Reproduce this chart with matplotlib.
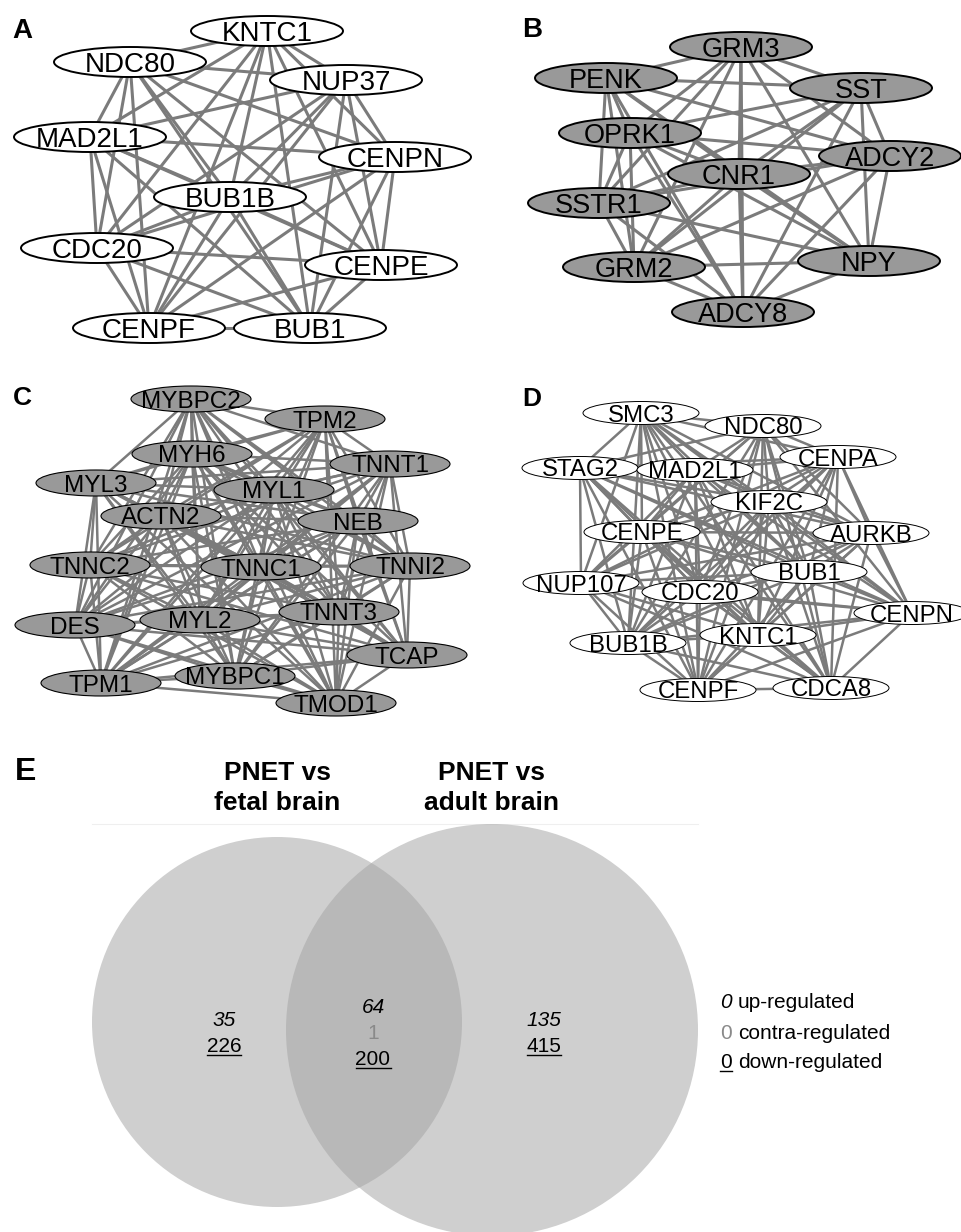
import itertools
import matplotlib
matplotlib.use("Agg")
import matplotlib.pyplot as plt
from matplotlib.patches import Ellipse, Circle

plt.rcParams["font.family"] = ["Liberation Sans", "DejaVu Sans"]

# ---------------- data ----------------
# Panel A network (nodes; all pairs connected except the listed missing ones)
genes_A = ["KNTC1", "NDC80", "NUP37", "MAD2L1", "CENPN", "BUB1B",
           "CDC20", "CENPE", "CENPF", "BUB1"]
missing_A = []
# Panel B network
genes_B = ["GRM3", "PENK", "SST", "OPRK1", "ADCY2", "CNR1",
           "SSTR1", "GRM2", "NPY", "ADCY8"]
missing_B = []
# Panel C network
genes_C = ["MYBPC2", "TPM2", "MYH6", "TNNT1", "MYL3", "MYL1", "ACTN2", "NEB",
           "TNNC2", "TNNC1", "TNNI2", "TNNT3", "DES", "MYL2", "TCAP", "TPM1",
           "MYBPC1", "TMOD1"]
missing_C = []
# Panel D network
genes_D = ["SMC3", "NDC80", "CENPA", "STAG2", "MAD2L1", "KIF2C", "CENPE",
           "AURKB", "BUB1", "NUP107", "CDC20", "CENPN", "KNTC1", "BUB1B",
           "CENPF", "CDCA8"]
missing_D = []

# Panel E Venn counts
venn_sets = ["PNET vs\nfetal brain", "PNET vs\nadult brain"]
venn_regions = ["fetal only", "both", "adult only"]
up_counts = [35, 64, 135]
contra_counts = [None, 1, None]
down_counts = [226, 200, 415]
legend_labels = ["up-regulated", "contra-regulated", "down-regulated"]
legend_counts = [0, 0, 0]

# ---------------- layout (pixel coordinates of the figure) ----------------
layout_A = {"KNTC1": (267, 31), "NDC80": (130, 62), "NUP37": (346, 80),
            "MAD2L1": (90, 137), "CENPN": (395, 157), "BUB1B": (230, 197),
            "CDC20": (97, 248), "CENPE": (381, 265), "CENPF": (149, 328),
            "BUB1": (310, 328)}
layout_B = {"GRM3": (741, 47), "PENK": (606, 78), "SST": (861, 88),
            "OPRK1": (630, 133), "ADCY2": (890, 156), "CNR1": (739, 174),
            "SSTR1": (599, 203), "GRM2": (634, 267), "NPY": (869, 261),
            "ADCY8": (743, 312)}
layout_C = {"MYBPC2": (191, 399), "TPM2": (325, 419), "MYH6": (192, 454),
            "TNNT1": (390, 464), "MYL3": (96, 483), "MYL1": (274, 490),
            "ACTN2": (161, 516), "NEB": (358, 521), "TNNC2": (90, 565),
            "TNNC1": (261, 567), "TNNI2": (410, 566), "TNNT3": (339, 612),
            "DES": (75, 625), "MYL2": (200, 620), "TCAP": (407, 655),
            "TPM1": (101, 683), "MYBPC1": (235, 676), "TMOD1": (336, 703)}
layout_D = {"SMC3": (641, 413), "NDC80": (763, 426), "CENPA": (838, 457),
            "STAG2": (580, 468), "MAD2L1": (695, 470), "KIF2C": (769, 502),
            "CENPE": (642, 532), "AURKB": (871, 533), "BUB1": (809, 572),
            "NUP107": (581, 583), "CDC20": (700, 592), "CENPN": (912, 613),
            "KNTC1": (758, 635), "BUB1B": (628, 643), "CENPF": (698, 690),
            "CDCA8": (831, 688)}

EDGE = "#7b7b7b"

fig = plt.figure(figsize=(9.61, 12.32), dpi=100)
ax = fig.add_axes([0, 0, 1, 1])
ax.set_xlim(0, 961)
ax.set_ylim(1232, 0)
ax.axis("off")


def draw_network(genes, missing, xy, w, h, face, node_lw, edge_lw, fs):
    miss = {frozenset(p) for p in missing}
    for a, b in itertools.combinations(genes, 2):
        if frozenset((a, b)) in miss:
            continue
        (x1, y1), (x2, y2) = xy[a], xy[b]
        ax.plot([x1, x2], [y1, y2], color=EDGE, lw=edge_lw, zorder=1,
                solid_capstyle="butt")
    for g in genes:
        x, y = xy[g]
        ax.add_patch(Ellipse((x, y), w, h, facecolor=face, edgecolor="black",
                             lw=node_lw, zorder=2))
        ax.text(x, y, g, ha="center", va="center_baseline", fontsize=fs,
                zorder=3)


draw_network(genes_A, missing_A, layout_A, 152, 30, "white", 1.4, 2.2, 20)
draw_network(genes_B, missing_B, layout_B, 142, 30, "#999999", 1.4, 2.2, 19.5)
draw_network(genes_C, missing_C, layout_C, 120, 26, "#999999", 0.8, 1.8, 17.5)
draw_network(genes_D, missing_D, layout_D, 116, 23, "white", 0.7, 1.8, 17.3)

# panel letters
for lab, x, y, fs in [("A", 12, 38, 20), ("B", 522, 37, 20), ("C", 13, 405, 19),
                      ("D", 522, 406, 19), ("E", 15, 780, 23)]:
    ax.text(x, y, lab, ha="left", va="baseline", fontsize=fs, fontweight="bold")

# ---------------- Venn ----------------
ax.plot([92, 698], [824, 824], color="#efefef", lw=0.8, zorder=0)
venn_circles = [((277, 1022), 185), ((492, 1030), 206)]
for (c, r) in venn_circles:
    ax.add_patch(Circle(c, r, facecolor="#a3a3a3", alpha=0.52, lw=0, zorder=1))

title_x = [277, 492]
for name, tx in zip(venn_sets, title_x):
    l1, l2 = name.split("\n")
    ax.text(tx, 780, l1, ha="center", va="baseline", fontsize=19,
            fontweight="bold")
    ax.text(tx, 810, l2, ha="center", va="baseline", fontsize=19,
            fontweight="bold")

renderer = fig.canvas.get_renderer()


def underline(t, y, dy=3.0):
    bb = t.get_window_extent(renderer).transformed(ax.transData.inverted())
    ax.plot([bb.x0, bb.x1], [y + dy, y + dy], color="black", lw=1.0, zorder=4)


region_x = [224, 373, 544]
NFS = 15
for i, rx in enumerate(region_x):
    if contra_counts[i] is None:
        ax.text(rx, 1026, str(up_counts[i]), ha="center", va="baseline",
                fontsize=NFS, style="italic", zorder=4)
        t = ax.text(rx, 1052, str(down_counts[i]), ha="center", va="baseline",
                    fontsize=NFS, zorder=4)
        underline(t, 1052)
    else:
        ax.text(rx, 1013, str(up_counts[i]), ha="center", va="baseline",
                fontsize=NFS, style="italic", zorder=4)
        ax.text(rx, 1039, str(contra_counts[i]), ha="center", va="baseline",
                fontsize=NFS, color="#8a8a8a", zorder=4)
        t = ax.text(rx, 1065, str(down_counts[i]), ha="center", va="baseline",
                    fontsize=NFS, zorder=4)
        underline(t, 1065)

# legend
leg_y = [1008, 1039, 1068]
styles = [dict(style="italic"), dict(color="#8a8a8a"), dict()]
for k, (lab, cnt, ly) in enumerate(zip(legend_labels, legend_counts, leg_y)):
    t = ax.text(720, ly, str(cnt), ha="left", va="baseline", fontsize=NFS,
                **styles[k])
    ax.text(738, ly, lab, ha="left", va="baseline", fontsize=NFS)
    if k == 2:
        underline(t, ly)

fig.savefig("out.png", dpi=100)
